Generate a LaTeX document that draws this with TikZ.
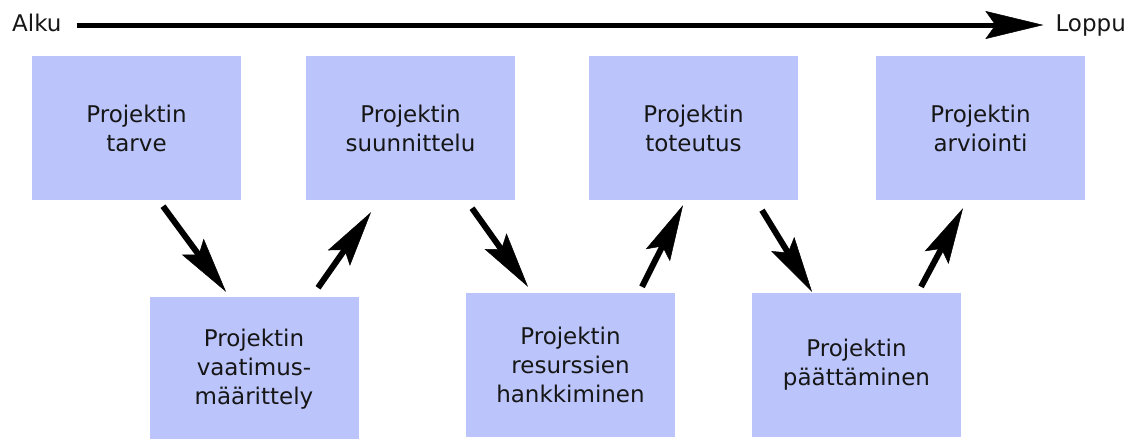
\documentclass[tikz,border=0pt]{standalone}
\usepackage{fontspec}
\setmainfont{DejaVu Sans}
\usetikzlibrary{arrows.meta}
\definecolor{phasefill}{RGB}{188,197,251}
\definecolor{inktext}{RGB}{22,22,22}
\begin{document}
\begin{tikzpicture}[x=1pt,y=-1pt,
  phase/.style={fill=phasefill, minimum width=209pt, minimum height=144pt,
    inner sep=0pt, align=center, text=inktext,
    font=\fontsize{23}{29}\selectfont},
  endlabel/.style={inner sep=0pt, text=inktext, text height=17pt, text depth=5pt,
    font=\fontsize{23}{29}\selectfont},
  stepflow/.style={line width=6pt,
    -{Stealth[length=56pt,width=27pt,inset=10pt,line width=0.5pt]}},
  timeline/.style={line width=5pt,
    -{Stealth[length=58pt,width=28pt,inset=10pt,line width=0.5pt]}}]
\useasboundingbox (0,0) rectangle (1133,439);

% time axis
\node[endlabel, anchor=base west] (alku) at (12,31) {Alku};
\node[endlabel, anchor=base east] (loppu) at (1126,31) {Loppu};
\draw[timeline] ([xshift=15pt]alku.east) -- ([xshift=-12pt]loppu.west);

% upper row of phases
\node[phase] (b1) at (136.5,128) {Projektin\\tarve};
\node[phase] (b2) at (410.5,128) {Projektin\\suunnittelu};
\node[phase] (b3) at (693.5,128) {Projektin\\toteutus};
\node[phase] (b4) at (980.5,128) {Projektin\\arviointi};

% lower row of phases
\node[phase] (b5) at (254,369) {Projektin\\vaatimus-\\määrittely};
\node[phase] (b6) at (570.5,365) {Projektin\\resurssien\\hankkiminen};
\node[phase] (b7) at (856.5,365) {Projektin\\päättäminen};

% zig-zag flow between the phases
\draw[stepflow] ([xshift=26.5pt,yshift=-6pt]b1.south) -- ([xshift=-28pt,yshift=5pt]b5.north);
\draw[stepflow] ([xshift=64pt,yshift=9pt]b5.north) -- ([xshift=-39.5pt,yshift=-12pt]b2.south);
\draw[stepflow] ([xshift=61.5pt,yshift=-8pt]b2.south) -- ([xshift=-42.5pt,yshift=6pt]b6.north);
\draw[stepflow] ([xshift=71.5pt,yshift=6pt]b6.north) -- ([xshift=-10.5pt,yshift=-5pt]b3.south);
\draw[stepflow] ([xshift=68.5pt,yshift=-10pt]b3.south) -- ([xshift=-44.5pt,yshift=1pt]b7.north);
\draw[stepflow] ([xshift=64.5pt,yshift=6pt]b7.north) -- ([xshift=-17.5pt,yshift=-8pt]b4.south);
\end{tikzpicture}
\end{document}
